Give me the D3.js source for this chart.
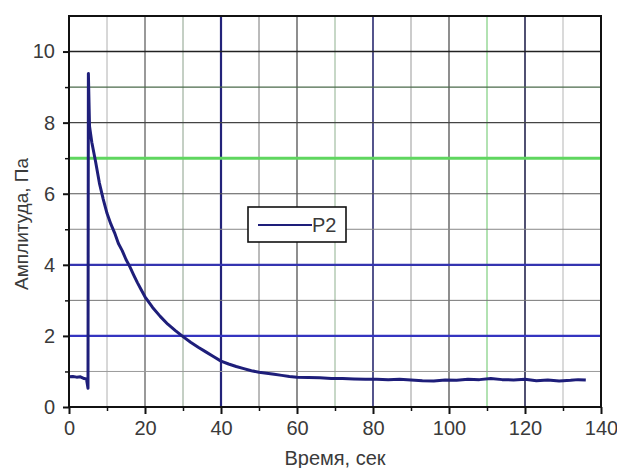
<!DOCTYPE html>
<html>
<head>
<meta charset="utf-8">
<script src="https://cdn.jsdelivr.net/npm/d3@7"></script>
<style>
body { margin: 0; background: #fff; }
svg text { font-family: "Liberation Sans", Arial, sans-serif; fill: #3a3a3a; }
</style>
</head>
<body>
<svg class="chart"></svg>
<script>
var width = 617, height = 468;

// time, seconds
var timeValues = [0, 1, 2, 3, 4, 4.6, 5.0, 5.1, 5.4, 6, 7, 8, 9, 10, 11, 12, 13, 14, 15, 16, 17, 18, 19, 20,
  22, 24, 26, 28, 30, 32, 34, 36, 38, 40, 42, 44, 46, 48, 50, 52, 54, 56, 58, 60,
  63, 66, 69, 72, 75, 78, 81, 84, 87, 90, 93, 96, 99, 102, 105, 108, 111, 114, 117, 120,
  123, 126, 129, 132, 134, 136];
// amplitude P2, Pa
var p2Values = [0.85, 0.86, 0.84, 0.85, 0.80, 0.79, 0.53, 9.38, 7.9, 7.45, 6.9, 6.3, 5.85, 5.45, 5.15, 4.9, 4.6, 4.4, 4.15, 3.95, 3.72, 3.5, 3.3, 3.1,
  2.8, 2.55, 2.33, 2.15, 1.98, 1.82, 1.68, 1.55, 1.42, 1.29, 1.21, 1.14, 1.08, 1.02, 0.98, 0.95, 0.92, 0.89, 0.86, 0.84,
  0.83, 0.82, 0.80, 0.80, 0.79, 0.78, 0.78, 0.77, 0.78, 0.76, 0.74, 0.73, 0.76, 0.75, 0.78, 0.77, 0.80, 0.77, 0.76, 0.78,
  0.74, 0.76, 0.73, 0.75, 0.77, 0.76];

var xTicks = [0, 20, 40, 60, 80, 100, 120, 140];
var yTicks = [0, 2, 4, 6, 8, 10];
var xGridValues = [10, 20, 30, 40, 50, 60, 70, 80, 90, 100, 110, 120, 130];
var yGridValues = [1, 2, 3, 4, 5, 6, 7, 8, 9, 10];

// grid line looks (the reference grid is uneven)
var xGridStyle = {10: ["#b0b0b0", 1], 20: ["#555", 1.2], 30: ["#8aa08a", 1], 40: ["#23237a", 2.2], 50: ["#777", 1],
  60: ["#444", 1.2], 70: ["#8fb08f", 1], 80: ["#2a2a70", 1.6], 90: ["#999", 1], 100: ["#444", 1.2],
  110: ["#7fcf7f", 1.2], 120: ["#25254f", 1.6], 130: ["#b5b5b5", 1]};
var yGridStyle = {1: ["#999", 1], 2: ["#3434c0", 2.2], 3: ["#777", 1], 4: ["#3434b0", 2.2], 5: ["#888", 1],
  6: ["#555", 1.2], 7: ["#5fd65f", 3], 8: ["#444", 1.2], 9: ["#4a6a4a", 1.2], 10: ["#222", 1.6]};

var m = {left: 69, right: 16, top: 16, bottom: 61};

var svg = d3.select(".chart").attr("width", width).attr("height", height);

var x = d3.scaleLinear().domain([0, 140]).range([m.left, width - m.right]);
var y = d3.scaleLinear().domain([0, 11]).range([height - m.bottom, m.top]);

// grid
svg.append("g").selectAll("line").data(xGridValues).enter().append("line")
  .attr("x1", d => x(d)).attr("x2", d => x(d))
  .attr("y1", y(0)).attr("y2", y(11))
  .attr("stroke", d => xGridStyle[d][0])
  .attr("stroke-width", d => xGridStyle[d][1]);

svg.append("g").selectAll("line").data(yGridValues).enter().append("line")
  .attr("x1", x(0)).attr("x2", x(140))
  .attr("y1", d => y(d)).attr("y2", d => y(d))
  .attr("stroke", d => yGridStyle[d][0])
  .attr("stroke-width", d => yGridStyle[d][1]);

// data line
var pts = timeValues.map((t, i) => [t, p2Values[i]]);
var line = d3.line().x(d => x(d[0])).y(d => y(d[1]));
svg.append("path").datum(pts)
  .attr("d", line)
  .attr("fill", "none")
  .attr("stroke", "#1e1e7a")
  .attr("stroke-width", 3)
  .attr("stroke-linejoin", "round");

// frame
svg.append("rect")
  .attr("x", x(0)).attr("y", y(11))
  .attr("width", x(140) - x(0)).attr("height", y(0) - y(11))
  .attr("fill", "none").attr("stroke", "#111").attr("stroke-width", 2);

// axes
var xAxis = d3.axisBottom(x).tickValues(xTicks).tickSize(7).tickPadding(7).tickFormat(d3.format("d"));
var gx = svg.append("g").attr("transform", "translate(0," + y(0) + ")").call(xAxis);
gx.select(".domain").remove();
gx.selectAll(".tick line").attr("stroke", "#111").attr("stroke-width", 2);
gx.selectAll("text").attr("font-size", 20).style("font-family", "Liberation Sans, Arial, sans-serif").attr("fill", "#3a3a3a");

var xMinor = d3.axisBottom(x).tickValues(d3.range(10, 140, 20)).tickSize(4).tickFormat("");
var gxm = svg.append("g").attr("transform", "translate(0," + y(0) + ")").call(xMinor);
gxm.select(".domain").remove();
gxm.selectAll(".tick line").attr("stroke", "#111").attr("stroke-width", 1.5);

var yAxis = d3.axisLeft(y).tickValues(yTicks).tickSize(6).tickPadding(8).tickFormat(d3.format("d"));
var gy = svg.append("g").attr("transform", "translate(" + x(0) + ",0)").call(yAxis);
gy.select(".domain").remove();
gy.selectAll(".tick line").attr("stroke", "#111").attr("stroke-width", 2);
gy.selectAll("text").attr("font-size", 20).style("font-family", "Liberation Sans, Arial, sans-serif").attr("fill", "#3a3a3a");

var yMinor = d3.axisLeft(y).tickValues([1, 3, 5, 7, 9]).tickSize(4).tickFormat("");
var gym = svg.append("g").attr("transform", "translate(" + x(0) + ",0)").call(yMinor);
gym.select(".domain").remove();
gym.selectAll(".tick line").attr("stroke", "#111").attr("stroke-width", 1.5);

// axis titles
svg.append("text")
  .attr("x", (x(0) + x(140)) / 2).attr("y", 465)
  .attr("text-anchor", "middle").attr("font-size", 20)
  .text("Время, сек");

svg.append("text")
  .attr("transform", "translate(28,224) rotate(-90)")
  .attr("text-anchor", "middle").attr("font-size", 19)
  .text("Амплитуда, Па");

// legend
var lg = svg.append("g").attr("transform", "translate(248,207)");
lg.append("rect").attr("width", 98).attr("height", 35)
  .attr("fill", "#fff").attr("stroke", "#111").attr("stroke-width", 1.6);
lg.append("line").attr("x1", 10).attr("x2", 64).attr("y1", 18).attr("y2", 18)
  .attr("stroke", "#1e1e7a").attr("stroke-width", 2);
lg.append("text").attr("x", 64).attr("y", 25).attr("font-size", 20).text("P2");
</script>
</body>
</html>
